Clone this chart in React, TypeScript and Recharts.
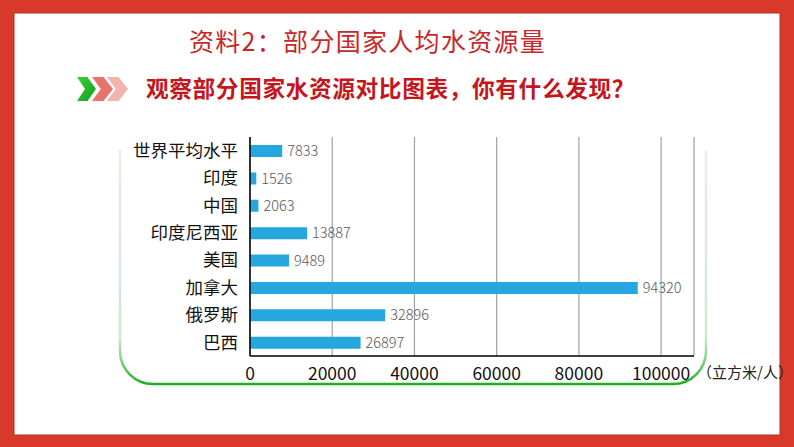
import React from 'react';
import { BarChart, Bar, XAxis, YAxis, CartesianGrid, LabelList } from 'recharts';

const countries = ['世界平均水平', '印度', '中国', '印度尼西亚', '美国', '加拿大', '俄罗斯', '巴西'];
const waterPerCapita = [7833, 1526, 2063, 13887, 9489, 94320, 32896, 26897];
const xTicks = [0, 20000, 40000, 60000, 80000, 100000];
const titleText = '资料2：部分国家人均水资源量';
const subtitleText = '观察部分国家水资源对比图表，你有什么发现？';
const unitText = '（立方米/人）';

const data = countries.map((name, i) => ({ name, value: waterPerCapita[i] }));

const CJK = '"Noto Sans CJK SC", "Noto Sans", sans-serif';

function chevron(x: number, y: number, w: number, h: number) {
  const m = y + h / 2;
  return `${x},${y} ${x + w * 0.55},${y} ${x + w},${m} ${x + w * 0.55},${y + h} ${x},${y + h} ${x + w * 0.42},${m}`;
}

function Background() {
  return (
    <svg width={794} height={447} style={{ position: 'absolute', left: 0, top: 0 }}>
      <defs>
        <linearGradient id="gborder" x1="0" y1="150" x2="0" y2="384" gradientUnits="userSpaceOnUse">
          <stop offset="0" stopColor="#eaefea" />
          <stop offset="0.8" stopColor="#cfe6cf" />
          <stop offset="0.9" stopColor="#7fd07f" />
          <stop offset="1" stopColor="#1fb01f" />
        </linearGradient>
        <linearGradient id="ggreen" x1="0" y1="0" x2="1" y2="1">
          <stop offset="0" stopColor="#3fcf3f" />
          <stop offset="1" stopColor="#0e9e1e" />
        </linearGradient>
      </defs>
      <rect x={0} y={0} width={794} height={447} fill="#D9392A" />
      <rect x={14} y={13} width={766} height={422} fill="#ffffff" stroke="#b8301f" strokeWidth={1} />
      <path
        d="M120,150 L120,351 A33,33 0 0 0 153,384 L673,384 A33,33 0 0 0 706,351 L706,150"
        fill="none"
        stroke="url(#gborder)"
        strokeWidth={2.5}
      />
      <text x={189} y={51} fontFamily={CJK} fontSize={25} letterSpacing={1.3} fill="#C8282A">{titleText}</text>
      <polygon points={chevron(77, 77, 19, 24)} fill="url(#ggreen)" />
      <polygon points={chevron(92, 77, 21, 24)} fill="#E8736C" />
      <polygon points={chevron(107, 77, 21, 24)} fill="#F2ABA4" opacity={0.9} />
      <text x={146} y={97} fontFamily={CJK} fontSize={22.7} fontWeight={700} letterSpacing={0.6} fill="#C4161C">{subtitleText}</text>
      <text x={697} y={378} fontFamily={CJK} fontSize={15} fill="#222">{unitText}</text>
    </svg>
  );
}

export default function App() {
  return (
    <div style={{ position: 'absolute', left: 0, top: 0, width: 794, height: 447, overflow: 'hidden' }}>
      <Background />
      <div style={{ position: 'absolute', left: 0, top: 0 }}>
        <BarChart
          width={794}
          height={447}
          data={data}
          layout="vertical"
          margin={{ top: 137, right: 100, bottom: 61, left: 0 }}
        >
          <CartesianGrid horizontal={false} stroke="#a0a0a0" strokeWidth={1.2} />
          <XAxis
            type="number"
            domain={[0, 108000]}
            ticks={xTicks}
            allowDataOverflow
            height={30}
            axisLine={{ stroke: '#000', strokeWidth: 1.5 }}
            tickLine={false}
            tickMargin={6}
            tick={{ fill: '#111', fontSize: 17.5, fontFamily: CJK }}
          />
          <YAxis
            type="category"
            dataKey="name"
            width={250}
            axisLine={{ stroke: '#000', strokeWidth: 1.5 }}
            tickLine={false}
            tickMargin={6}
            interval={0}
            tick={{ fill: '#111', fontSize: 17.5, fontFamily: CJK }}
          />
          <Bar dataKey="value" fill="#26A7DF" barSize={12} isAnimationActive={false}>
            <LabelList
              dataKey="value"
              position="right"
              offset={5}
              fill="#595959"
              fontSize={14.5}
              fontFamily={CJK}
              fontWeight={300}
            />
          </Bar>
        </BarChart>
      </div>
    </div>
  );
}
